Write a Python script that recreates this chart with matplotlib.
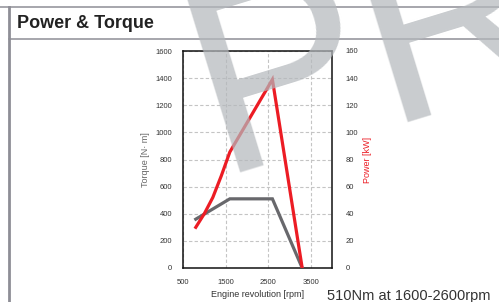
import matplotlib
matplotlib.use("Agg")
import matplotlib.pyplot as plt
from matplotlib.lines import Line2D

plt.rcParams['font.family'] = ['Liberation Sans', 'DejaVu Sans']

# data
torque_rpm = [800, 1600, 2600, 3300]
torque_nm = [360, 510, 510, 0]
power_rpm = [800, 1000, 1200, 1400, 1600, 2600, 3300]
power_kw = [30, 40, 52, 68, 85.5, 139, 0]
x_ticks = [500, 1500, 2500, 3500]
torque_ticks = [0, 200, 400, 600, 800, 1000, 1200, 1400, 1600]
power_ticks = [0, 20, 40, 60, 80, 100, 120, 140, 160]

W, H = 499, 302
fig = plt.figure(figsize=(W / 100, H / 100), dpi=100)

# header frame
line_c = '#8e8e96'
fig.add_artist(Line2D([0, 1], [1 - 7 / H, 1 - 7 / H], color=line_c, lw=1.1))
fig.add_artist(Line2D([8.5 / W, 1], [1 - 39 / H, 1 - 39 / H], color=line_c, lw=1.1))
fig.add_artist(Line2D([8.5 / W, 8.5 / W], [0, 1 - 7 / H], color=line_c, lw=2))
fig.text(17 / W, 1 - 23 / H, "Power & Torque", fontsize=13, fontweight='bold',
         color='#222222', va='center', ha='left')

ax = fig.add_axes([183 / W, 1 - 268 / H, 149 / W, 217 / H])
ax.plot(torque_rpm, torque_nm, color='#68686c', lw=2.3, solid_joinstyle='miter', zorder=3)
ax.set_xlim(500, 4000)
ax.set_ylim(0, 1600)
ax.set_xticks(x_ticks)
ax.set_yticks(torque_ticks)
ax.grid(True, color='#c4c4c4', ls=(0, (3, 2)), lw=0.8)
ax.tick_params(length=0, labelsize=5.5, colors='#333333', pad=8)
ax.tick_params(axis='x', pad=8)
for s in ax.spines.values():
    s.set_linewidth(1.1)
    s.set_color('#111111')
ax.set_ylabel("Torque [N· m]", fontsize=6.5, color='#666666', labelpad=4)
ax.set_xlabel("Engine revolution [rpm]", fontsize=6.5, color='#333333', labelpad=3)

ax2 = ax.twinx()
ax2.plot(power_rpm, power_kw, color='#ec1c24', lw=2.3, solid_joinstyle='miter', zorder=4)
ax2.set_ylim(0, 160)
ax2.set_yticks(power_ticks)
ax2.tick_params(length=0, labelsize=5.5, colors='#333333', pad=10)
ax2.set_ylabel("Power [kW]", fontsize=6.5, color='#ec1c24', labelpad=3)
for s in ax2.spines.values():
    s.set_visible(False)

fig.text(327 / W, 1 - 289 / H, "510Nm at 1600-2600rpm", fontsize=10.5,
         color='#333333', ha='left', va='top')

# watermark
fig.text(218 / W, 1 - 173 / H, "PR", fontsize=190, color='#b4b8bc', alpha=0.72,
         rotation=17, rotation_mode='anchor', ha='left', va='baseline', zorder=10)

fig.savefig("out.png", dpi=100)
